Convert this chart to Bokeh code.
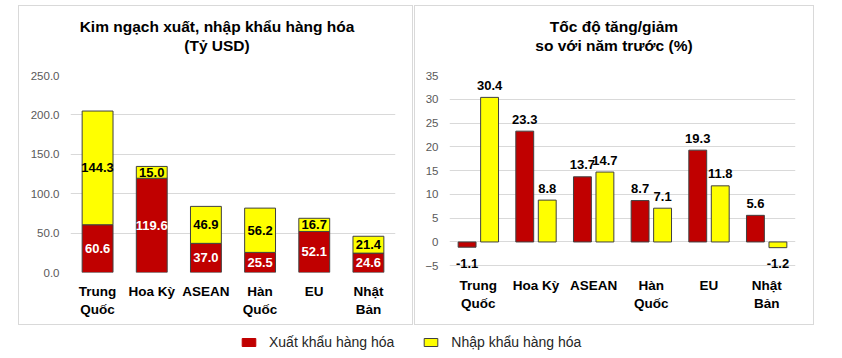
from bokeh.plotting import figure
from bokeh.models import (ColumnDataSource, FixedTicker, Range1d, Legend, LegendItem, Spacer, Div)
from bokeh.layouts import row, column
from bokeh.embed import file_html
from bokeh.resources import INLINE
from bokeh.core.properties import value

# ---------------- data ----------------
categories = ["Trung\nQuốc", "Hoa Kỳ", "ASEAN", "Hàn\nQuốc", "EU", "Nhật\nBản"]
export_value = [60.6, 119.6, 37.0, 25.5, 52.1, 24.6]     # Tỷ USD
import_value = [144.3, 15.0, 46.9, 56.2, 16.7, 21.4]     # Tỷ USD
export_growth = [-1.1, 23.3, 13.7, 8.7, 19.3, 5.6]       # %
import_growth = [30.4, 8.8, 14.7, 7.1, 11.8, -1.2]       # %
left_ticks = [0, 50, 100, 150, 200, 250]
left_tick_labels = ["0.0", "50.0", "100.0", "150.0", "200.0", "250.0"]
right_ticks = [-5, 0, 5, 10, 15, 20, 25, 30, 35]
series_names = ["Xuất khẩu hàng hóa", "Nhập khẩu hàng hóa"]
left_title = ["Kim ngạch xuất, nhập khẩu hàng hóa", "(Tỷ USD)"]
right_title = ["Tốc độ tăng/giảm", "so với năm trước (%)"]

# ---------------- style ----------------
FONT = "Liberation Sans"
RED = "#C00000"
YELLOW = "#FFFF00"
EDGE = "#404040"
GRID = "#D9D9D9"
TICK_COLOR = "#595959"
PANEL_STYLE = {"outline": "1px solid #D9D9D9", "outline-offset": "-1px"}

xs = list(range(len(categories)))
x_overrides = {i: c for i, c in enumerate(categories)}


def style_axes(p, yticks, ylabels=None, x_standoff=8):
    p.xgrid.grid_line_color = None
    p.ygrid.grid_line_color = GRID
    p.ygrid.ticker = FixedTicker(ticks=yticks)
    p.yaxis.ticker = FixedTicker(ticks=yticks)
    if ylabels:
        p.yaxis.major_label_overrides = {t: l for t, l in zip(yticks, ylabels)}
    p.yaxis.axis_line_color = None
    p.yaxis.major_tick_line_color = None
    p.yaxis.minor_tick_line_color = None
    p.yaxis.major_tick_out = 0
    p.yaxis.major_label_text_font = FONT
    p.yaxis.major_label_text_font_size = "11.5px"
    p.yaxis.major_label_text_color = TICK_COLOR
    p.yaxis.major_label_standoff = 11
    p.xaxis.ticker = FixedTicker(ticks=xs)
    p.xaxis.major_label_overrides = x_overrides
    p.xaxis.axis_line_color = None
    p.xaxis.major_tick_line_color = None
    p.xaxis.minor_tick_line_color = None
    p.xaxis.major_label_text_font = FONT
    p.xaxis.major_label_text_font_style = "bold"
    p.xaxis.major_label_text_font_size = "13.5px"
    p.xaxis.major_label_text_color = "#000000"
    p.xaxis.major_label_standoff = x_standoff


def title_div(lines, width, shift):
    html = ('<div style="box-sizing:border-box;width:%dpx;padding-top:13px;padding-left:%dpx;'
            'text-align:center;font-family:\'Liberation Sans\';font-weight:bold;'
            'font-size:15.5px;line-height:18.5px;color:#000000;">%s</div>'
            ) % (width, shift, "<br>".join(lines))
    return Div(text=html, width=width, height=62, margin=0)


# ---------------- left panel: stacked values ----------------
src1 = ColumnDataSource(dict(
    x=xs,
    exp=export_value,
    top=[e + i for e, i in zip(export_value, import_value)],
    exp_mid=[e / 2 for e in export_value],
    imp_mid=[e + i / 2 for e, i in zip(export_value, import_value)],
    exp_lbl=[f"{v:.1f}" for v in export_value],
    imp_lbl=[f"{v:.1f}" for v in import_value],
))

p1 = figure(width=395, height=258, x_range=Range1d(-0.5, 5.5), y_range=Range1d(0, 250),
            output_backend="svg", toolbar_location=None, title=None,
            min_border_left=52, min_border_right=18, min_border_top=8, min_border_bottom=53,
            background_fill_color="white", border_fill_color=None, outline_line_color=None)
p1.vbar(x="x", bottom=0, top="exp", width=0.57, source=src1,
        fill_color=RED, line_color=EDGE, line_width=1)
p1.vbar(x="x", bottom="exp", top="top", width=0.57, source=src1,
        fill_color=YELLOW, line_color=EDGE, line_width=1)
p1.text(x="x", y="exp_mid", text="exp_lbl", source=src1, text_color="white",
        text_font=value(FONT), text_font_style="bold", text_font_size="13px",
        text_align="center", text_baseline="middle")
p1.text(x="x", y="imp_mid", text="imp_lbl", source=src1, text_color="#000000",
        text_font=value(FONT), text_font_style="bold", text_font_size="13px",
        text_align="center", text_baseline="middle")
style_axes(p1, left_ticks, left_tick_labels, x_standoff=5)

# ---------------- right panel: growth rates ----------------
DODGE = 0.195
BW = 0.31
src2 = ColumnDataSource(dict(
    xr=[x - DODGE for x in xs], xy=[x + DODGE for x in xs],
    eg=export_growth, ig=import_growth,
))
p2 = figure(width=400, height=258, x_range=Range1d(-0.5, 5.5), y_range=Range1d(-6, 35),
            output_backend="svg", toolbar_location=None, title=None,
            min_border_left=35, min_border_right=19, min_border_top=8, min_border_bottom=55,
            background_fill_color="white", border_fill_color=None, outline_line_color=None)
p2.vbar(x="xr", bottom=0, top="eg", width=BW, source=src2,
        fill_color=RED, line_color=EDGE, line_width=1)
p2.vbar(x="xy", bottom=0, top="ig", width=BW, source=src2,
        fill_color=YELLOW, line_color=EDGE, line_width=1)

lab_pos = dict(x=[], y=[], t=[])
lab_neg = dict(x=[], y=[], t=[])
for xv, vals in ((src2.data["xr"], export_growth), (src2.data["xy"], import_growth)):
    for xx, v in zip(xv, vals):
        d = lab_pos if v >= 0 else lab_neg
        d["x"].append(xx)
        d["y"].append(v)
        d["t"].append(f"{v:.1f}")
p2.text(x="x", y="y", text="t", source=ColumnDataSource(lab_pos), text_color="#000000",
        text_font=value(FONT), text_font_style="bold", text_font_size="13px",
        text_align="center", text_baseline="middle", y_offset=-12)
p2.text(x="x", y="y", text="t", source=ColumnDataSource(lab_neg), text_color="#000000",
        text_font=value(FONT), text_font_style="bold", text_font_size="13px",
        text_align="center", text_baseline="middle", y_offset=16)
style_axes(p2, right_ticks, None, x_standoff=1)

panel1 = column(title_div(left_title, 395, 3), p1, styles=PANEL_STYLE)
panel2 = column(title_div(right_title, 400, 0), p2, styles=PANEL_STYLE)

# ---------------- legend strip ----------------
pl = figure(width=842, height=33, x_range=Range1d(0, 1), y_range=Range1d(0, 1),
            output_backend="svg", toolbar_location=None,
            min_border=0, outline_line_color=None,
            background_fill_color="white", border_fill_color="white")
pl.axis.visible = False
pl.grid.grid_line_color = None
r_exp = pl.vbar(x=[5], top=[1], width=0.1, fill_color=RED, line_color=RED)
r_imp = pl.vbar(x=[5], top=[1], width=0.1, fill_color=YELLOW, line_color=EDGE)
legend = Legend(items=[LegendItem(label=series_names[0], renderers=[r_exp]),
                       LegendItem(label=series_names[1], renderers=[r_imp])],
                orientation="horizontal", location=(240, 8),
                glyph_width=17, glyph_height=10, label_standoff=12, spacing=28,
                padding=0, margin=0, label_height=10,
                border_line_color=None, background_fill_alpha=0,
                label_text_font=FONT, label_text_font_size="14px",
                label_text_color="#262626")
pl.add_layout(legend)

layout = column(
    Spacer(width=842, height=5),
    row(Spacer(width=18, height=320), panel1, Spacer(width=1, height=320), panel2),
    pl,
)

open("out.html", "w").write(file_html(layout, INLINE))
